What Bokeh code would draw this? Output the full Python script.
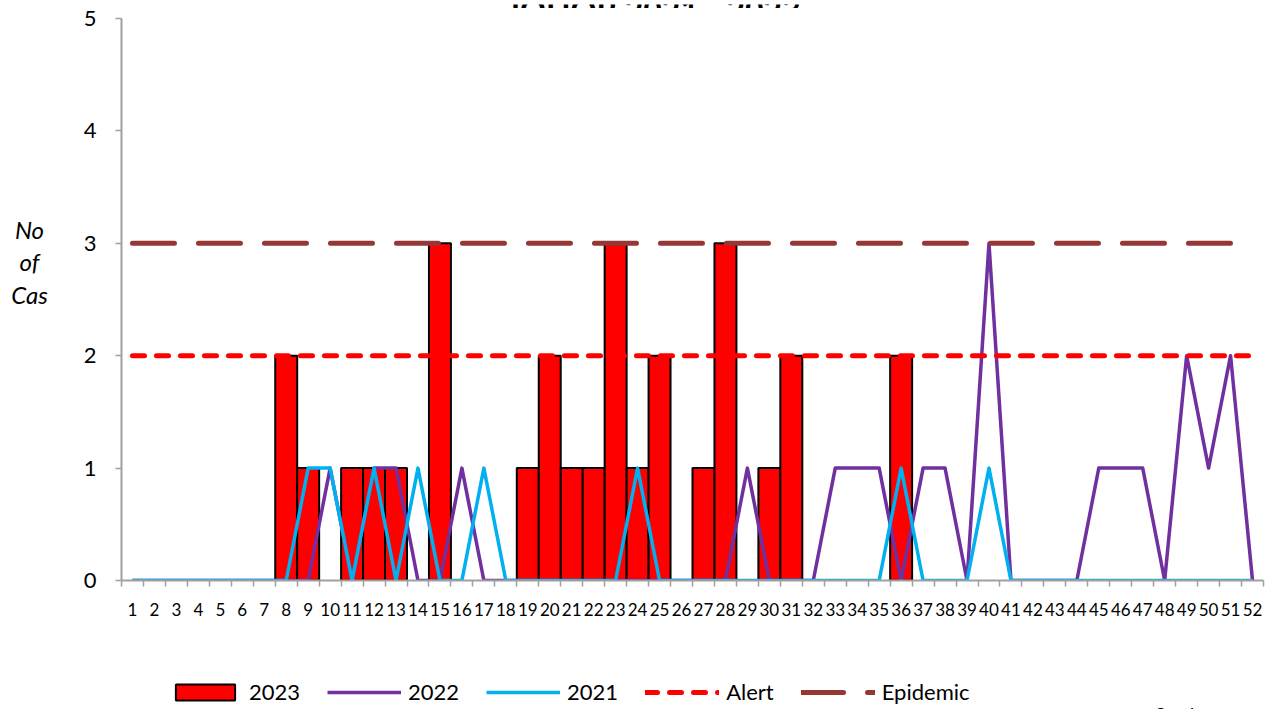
from bokeh.plotting import figure
from bokeh.models import Range1d, FixedTicker, Legend, LegendItem
from bokeh.layouts import column, row
from bokeh.core.properties import value
from bokeh.embed import file_html
from bokeh.resources import INLINE

# ---- data ----
weeks = list(range(1, 53))
week_labels = [str(w) for w in weeks]
y_ticks = [0, 1, 2, 3, 4, 5]

cases_2023 = [0, 0, 0, 0, 0, 0, 0, 2, 1, 0,
              1, 1, 1, 0, 3, 0, 0, 0, 1, 2,
              1, 1, 3, 1, 2, 0, 1, 3, 0, 1,
              2, 0, 0, 0, 0, 2, 0, 0, 0, 0,
              0, 0, 0, 0, 0, 0, 0, 0, 0, 0,
              0, 0]
cases_2022 = [0, 0, 0, 0, 0, 0, 0, 0, 0, 1,
              0, 1, 1, 0, 0, 1, 0, 0, 0, 0,
              0, 0, 0, 0, 0, 0, 0, 0, 1, 0,
              0, 0, 1, 1, 1, 0, 1, 1, 0, 3,
              0, 0, 0, 0, 1, 1, 1, 0, 2, 1,
              2, 0]
cases_2021 = [0, 0, 0, 0, 0, 0, 0, 0, 1, 1,
              0, 1, 0, 1, 0, 0, 1, 0, 0, 0,
              0, 0, 0, 1, 0, 0, 0, 0, 0, 0,
              0, 0, 0, 0, 0, 1, 0, 0, 0, 1,
              0, 0, 0, 0, 0, 0, 0, 0, 0, 0,
              0, 0]
alert = [2] * 52
epidemic = [3] * 52

series_names = ["2023", "2022", "2021", "Alert", "Epidemic"]
title_text = "JOHOR 2021 - 2023"
y_title_lines = ["No", "of", "Cas"]
source_note = "Sumber:"

FONT = "Lato"
AXIS_GRAY = "#A0A0A0"
C23, C22, C21, CAL, CEP = "#FF0000", "#7030A0", "#00B0F0", "#FF0000", "#953735"

W, H = 1279, 709
TITLE_H = 8
MAIN_H = 632
LEG_H = H - TITLE_H - MAIN_H
YLAB_W = 60
MAIN_W = W - YLAB_W


def blank(width, height):
    f = figure(width=width, height=height, output_backend="svg", toolbar_location=None,
               x_range=Range1d(0, width), y_range=Range1d(height, 0),
               x_axis_location=None, y_axis_location=None,
               min_border=0, min_border_left=0, min_border_right=0,
               min_border_top=0, min_border_bottom=0)
    f.grid.visible = False
    f.outline_line_color = None
    f.background_fill_color = "white"
    f.border_fill_color = "white"
    return f


# ---- title strip (the reference shows only the bottom of the title) ----
tfig = blank(W, TITLE_H)
tfig.text(x=[653], y=[TITLE_H - 3], text=[title_text], text_align="center",
          text_baseline="alphabetic", text_font=value(FONT), text_font_style="bold",
          text_font_size="32px", text_color="black")

# ---- y-axis title panel ----
yfig = blank(YLAB_W, MAIN_H)
yfig.text(x=[29, 29, 29], y=[237, 273, 310], text=y_title_lines, text_align="center",
          text_baseline="alphabetic", text_font=value(FONT), text_font_style="italic",
          text_font_size="24px", text_color="black")

# ---- main chart ----
p = figure(width=MAIN_W, height=MAIN_H, output_backend="svg", toolbar_location=None,
           x_range=Range1d(0.5, 52.5), y_range=Range1d(0, 5),
           min_border_left=61, min_border_right=16, min_border_top=10, min_border_bottom=60)
p.xgrid.visible = False
p.ygrid.visible = False
p.outline_line_color = None
p.background_fill_color = "white"
p.border_fill_color = "white"

p.xaxis.ticker = FixedTicker(ticks=weeks, minor_ticks=[w - 0.5 for w in weeks] + [weeks[-1] + 0.5])
p.xaxis.major_label_overrides = {w: l for w, l in zip(weeks, week_labels)}
p.xaxis.major_tick_out = 0
p.xaxis.major_tick_in = 0
p.xaxis.minor_tick_out = 6
p.xaxis.minor_tick_in = 0
p.xaxis.minor_tick_line_color = AXIS_GRAY
p.xaxis.minor_tick_line_width = 1.5
p.xaxis.axis_line_color = AXIS_GRAY
p.xaxis.axis_line_width = 2
p.xaxis.major_label_text_font = FONT
p.xaxis.major_label_text_font_size = "17px"
p.xaxis.major_label_text_color = "black"
p.xaxis.major_label_standoff = 16

p.yaxis.ticker = FixedTicker(ticks=y_ticks)
p.yaxis.major_tick_out = 6
p.yaxis.major_tick_in = 0
p.yaxis.minor_tick_out = 0
p.yaxis.minor_tick_in = 0
p.yaxis.major_tick_line_color = AXIS_GRAY
p.yaxis.major_tick_line_width = 1.5
p.yaxis.axis_line_color = AXIS_GRAY
p.yaxis.axis_line_width = 2
p.yaxis.major_label_text_font = FONT
p.yaxis.major_label_text_font_size = "22px"
p.yaxis.major_label_text_color = "black"
p.yaxis.major_label_standoff = 19

bx = [w for w, v in zip(weeks, cases_2023) if v > 0]
bt = [v for v in cases_2023 if v > 0]
p.vbar(x=bx, top=bt, bottom=0, width=1, fill_color=C23, line_color="black", line_width=2)
p.line(weeks, cases_2022, line_color=C22, line_width=3.5, line_join="round")
p.line(weeks, cases_2021, line_color=C21, line_width=3.5, line_join="round")
p.line(weeks, alert, line_color=CAL, line_width=5, line_dash="12 12", line_cap="round")
p.line(weeks, epidemic, line_color=CEP, line_width=5, line_dash="42 24", line_cap="round")

# ---- legend strip (proxy renderers sit far outside the visible range) ----
lfig = blank(W, LEG_H)
offx = [W + 500, W + 600]
offy = [LEG_H + 500, LEG_H + 600]
lr23 = lfig.vbar(x=offx[:1], top=offy[1:], bottom=offy[:1], width=1,
                 fill_color=C23, line_color="black", line_width=2)
lr22 = lfig.line(x=offx, y=offy, line_color=C22, line_width=3.5)
lr21 = lfig.line(x=offx, y=offy, line_color=C21, line_width=3.5)
lral = lfig.line(x=offx, y=offy, line_color=CAL, line_width=5, line_dash="12 12", line_cap="round")
lrep = lfig.line(x=offx, y=offy, line_color=CEP, line_width=5, line_dash="42 24", line_cap="round")
legend = Legend(items=[LegendItem(label=n, renderers=[r]) for n, r in
                       zip(series_names, [lr23, lr22, lr21, lral, lrep])],
                orientation="horizontal", location=(168, 4),
                glyph_width=74, glyph_height=20, label_standoff=7, spacing=27,
                padding=0, margin=0, border_line_color=None, background_fill_alpha=0,
                label_text_font=FONT, label_text_font_size="22px", label_height=24,
                label_text_color="black")
lfig.add_layout(legend)
lfig.text(x=[1155], y=[LEG_H - 7], text=[source_note], text_align="left",
          text_baseline="top", text_font=value(FONT), text_font_size="18px",
          text_color="black")

layout = column(tfig, row(yfig, p), lfig)
open("out.html", "w").write(file_html(layout, INLINE))
